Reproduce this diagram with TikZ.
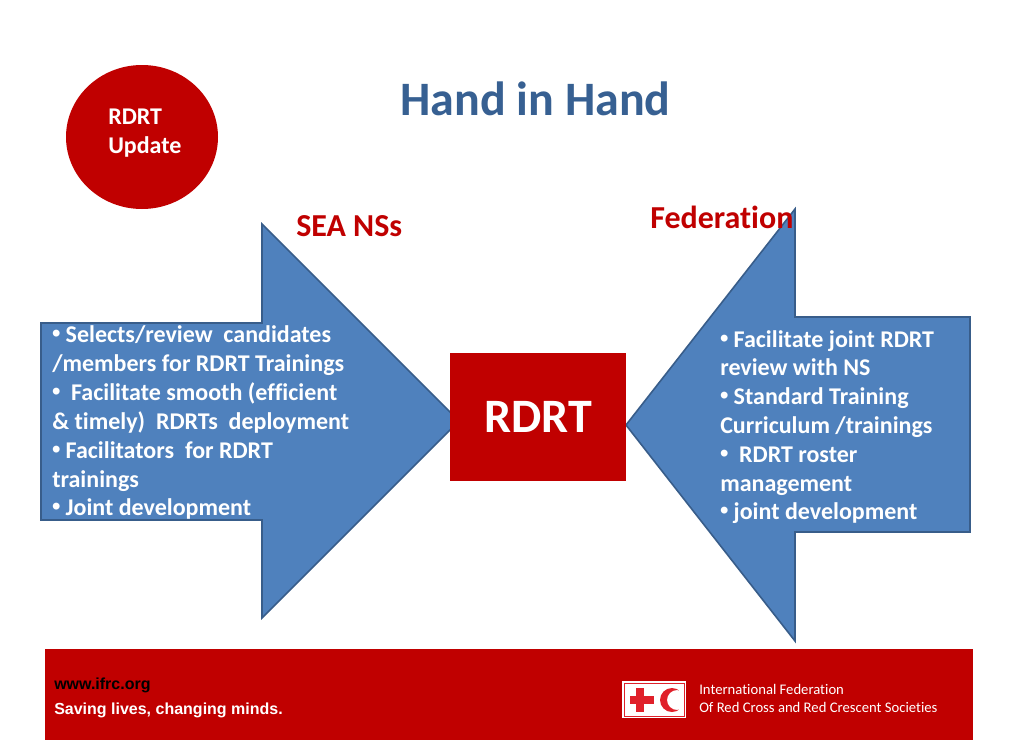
\documentclass[tikz,border=0pt]{standalone}
\usepackage{fontspec}
\setmainfont[Ligatures=NoCommon]{Carlito}
\newfontfamily\arialfont{Liberation Sans}
\newcommand{\bul}{\makebox[6pt][c]{\raisebox{0.3pt}{\arialfont\fontsize{18}{18}\selectfont\bfseries •}}}
\definecolor{ifrcred}{HTML}{C00000}
\definecolor{logored}{HTML}{E0202A}
\definecolor{arrowfill}{HTML}{4F81BD}
\definecolor{arrowline}{HTML}{385D8A}
\definecolor{titleblue}{HTML}{376092}
\tikzset{
  x=0.75pt,y=-0.75pt,
  bigarrow/.style={fill=arrowfill,draw=arrowline,line width=1.2pt,line join=miter},
  bodyline/.style={anchor=base west,inner sep=0pt,text=white,font=\fontsize{18}{20}\selectfont\bfseries},
  redhead/.style={anchor=base west,inner sep=0pt,text=ifrcred,font=\fontsize{24}{28}\selectfont\bfseries},
  badgeline/.style={anchor=base west,inner sep=0pt,text=white,font=\fontsize{18}{20}\selectfont\bfseries},
  footline/.style={anchor=base west,inner sep=0pt,text=white,font=\fontsize{11}{13}\selectfont},
  webline/.style={anchor=base west,inner sep=0pt,font=\arialfont\fontsize{12}{14}\selectfont\bfseries},
}
\begin{document}
\begin{tikzpicture}
\useasboundingbox (0,0) rectangle (1015,754);
\fill[white] (0,0) rectangle (1015,754);
% badge
\fill[ifrcred] (142,137) ellipse [x radius=76,y radius=72];
\node[badgeline] (badge1) at (108,124) {RDRT};
\node[badgeline] (badge2) at (108,153.5) {Update};
% title
\node[anchor=base west,inner sep=0pt,text=titleblue,font=\fontsize{36}{40}\selectfont\bfseries] (title) at (400,115) {Hand in Hand};
% arrows
\path[bigarrow] (41,323) -- (262,323) -- (262,224) -- (459,421) -- (262,618) -- (262,520) -- (41,520) -- cycle;
\path[bigarrow] (626,425) -- (795,209) -- (795,317) -- (970,317) -- (970,532) -- (795,532) -- (795,641) -- cycle;
% headings
\node[redhead] (sea) at (296,236) {SEA NSs};
\node[redhead] (fed) at (650,228) {Federation};
% centre
\node[fill=ifrcred,minimum width=132pt,minimum height=96pt,inner sep=0pt,text=white,font=\fontsize{36}{40}\selectfont\bfseries] (rdrt) at (538,417) {RDRT};
% left text
\node[bodyline] (l1) at (52,342) {\bul{} Selects/review~~candidates};
\node[bodyline] (l2) at (52,371) {/members for RDRT Trainings};
\node[bodyline] (l3) at (52,400) {\bul{}~~Facilitate smooth (efficient};
\node[bodyline] (l4) at (52,429) {\& timely)~~RDRTs~~deployment};
\node[bodyline] (l5) at (52,458) {\bul{} Facilitators~~for RDRT};
\node[bodyline] (l6) at (52,487) {trainings};
\node[bodyline] (l7) at (52,515) {\bul{} Joint development};
% right text
\node[bodyline] (r1) at (720,347) {\bul{} Facilitate joint RDRT};
\node[bodyline] (r2) at (720,375) {review with NS};
\node[bodyline] (r3) at (720,404) {\bul{} Standard Training};
\node[bodyline] (r4) at (720,433) {Curriculum /trainings};
\node[bodyline] (r5) at (720,462) {\bul{}~~RDRT roster};
\node[bodyline] (r6) at (720,491) {management};
\node[bodyline] (r7) at (720,519) {\bul{} joint development};
% footer
\fill[ifrcred] (45,649) rectangle (973,740);
\node[webline,text=black] (web) at (54,689) {www.ifrc.org};
\node[webline,text=white] (save) at (54,714) {Saving lives, changing minds.};
% logo
\fill[white] (622,681) rectangle (686,718);
\draw[logored,line width=0.7pt] (624,683) rectangle (684,716);
\fill[logored] (636,688) rectangle (644,712);
\fill[logored] (630,696) rectangle (654,704);
\begin{scope}
\clip (655,680) rectangle (678.9,720);
\fill[logored,even odd rule] (672,700) circle [radius=12] (677,700) circle [radius=10];
\end{scope}
\node[footline] (f1) at (699,694) {International Federation};
\node[footline] (f2) at (699,712) {Of Red Cross and Red Crescent Societies};
\end{tikzpicture}
\end{document}
